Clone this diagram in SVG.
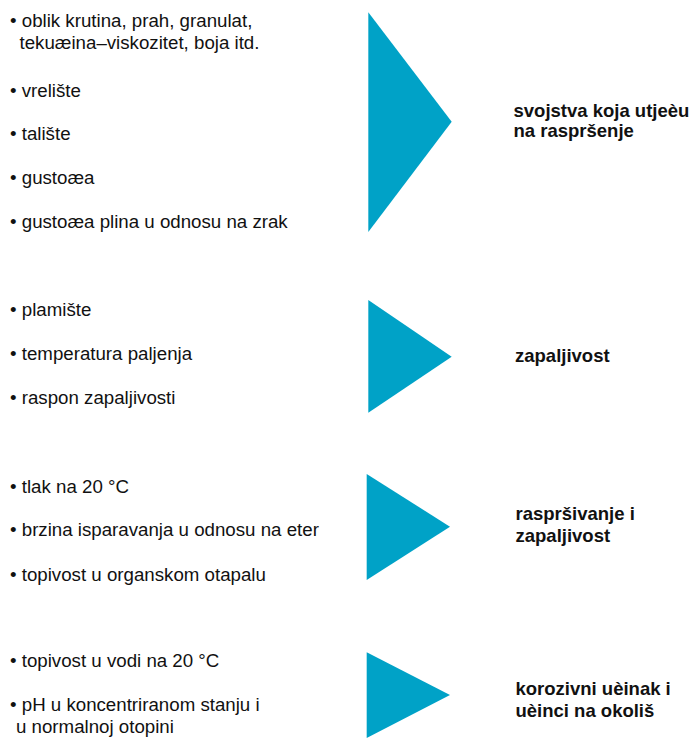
<svg xmlns="http://www.w3.org/2000/svg" width="693" height="738" viewBox="0 0 693 738">
<style>
.t{font-family:"Liberation Sans",Arial,sans-serif;font-size:18.7px;fill:#111}
.b{font-family:"Liberation Sans",Arial,sans-serif;font-size:18.5px;font-weight:bold;fill:#111}
.tri{fill:#00A2C7}
</style>
<rect width="693" height="738" fill="#fff"/>
<g id="group1">
<text class="t" x="10" y="27">• oblik krutina, prah, granulat,</text>
<text class="t" x="19.5" y="49">tekuæina–viskozitet, boja itd.</text>
<text class="t" x="10" y="97">• vrelište</text>
<text class="t" x="10" y="140">• talište</text>
<text class="t" x="10" y="184">• gustoæa</text>
<text class="t" x="10" y="228">• gustoæa plina u odnosu na zrak</text>
</g>
<g id="group2">
<text class="t" x="10" y="316">• plamište</text>
<text class="t" x="10" y="360">• temperatura paljenja</text>
<text class="t" x="10" y="404">• raspon zapaljivosti</text>
</g>
<g id="group3">
<text class="t" x="10" y="493">• tlak na 20 °C</text>
<text class="t" x="10" y="536">• brzina isparavanja u odnosu na eter</text>
<text class="t" x="10" y="581">• topivost u organskom otapalu</text>
</g>
<g id="group4">
<text class="t" x="10" y="667">• topivost u vodi na 20 °C</text>
<text class="t" x="10" y="711">• pH u koncentriranom stanju i</text>
<text class="t" x="16" y="733">u normalnoj otopini</text>
</g>
<g id="connectors">
<polygon class="tri" points="368.3,12.3 451.7,121.7 368.3,232"/>
<polygon class="tri" points="368.3,300 451.7,356.7 368.3,412.7"/>
<polygon class="tri" points="366.7,474 450,526.7 366.7,580"/>
<polygon class="tri" points="366.7,652.3 450,695 366.7,738"/>
</g>
<g id="label1">
<text class="b" x="513.5" y="117">svojstva koja utjeèu</text>
<text class="b" x="513.5" y="137">na raspršenje</text>
</g>
<g id="label2">
<text class="b" x="515" y="362">zapaljivost</text>
</g>
<g id="label3">
<text class="b" x="515.5" y="520">raspršivanje i</text>
<text class="b" x="515.5" y="541.5">zapaljivost</text>
</g>
<g id="label4">
<text class="b" x="515.5" y="695">korozivni uèinak i</text>
<text class="b" x="515.5" y="717">uèinci na okoliš</text>
</g>
</svg>
